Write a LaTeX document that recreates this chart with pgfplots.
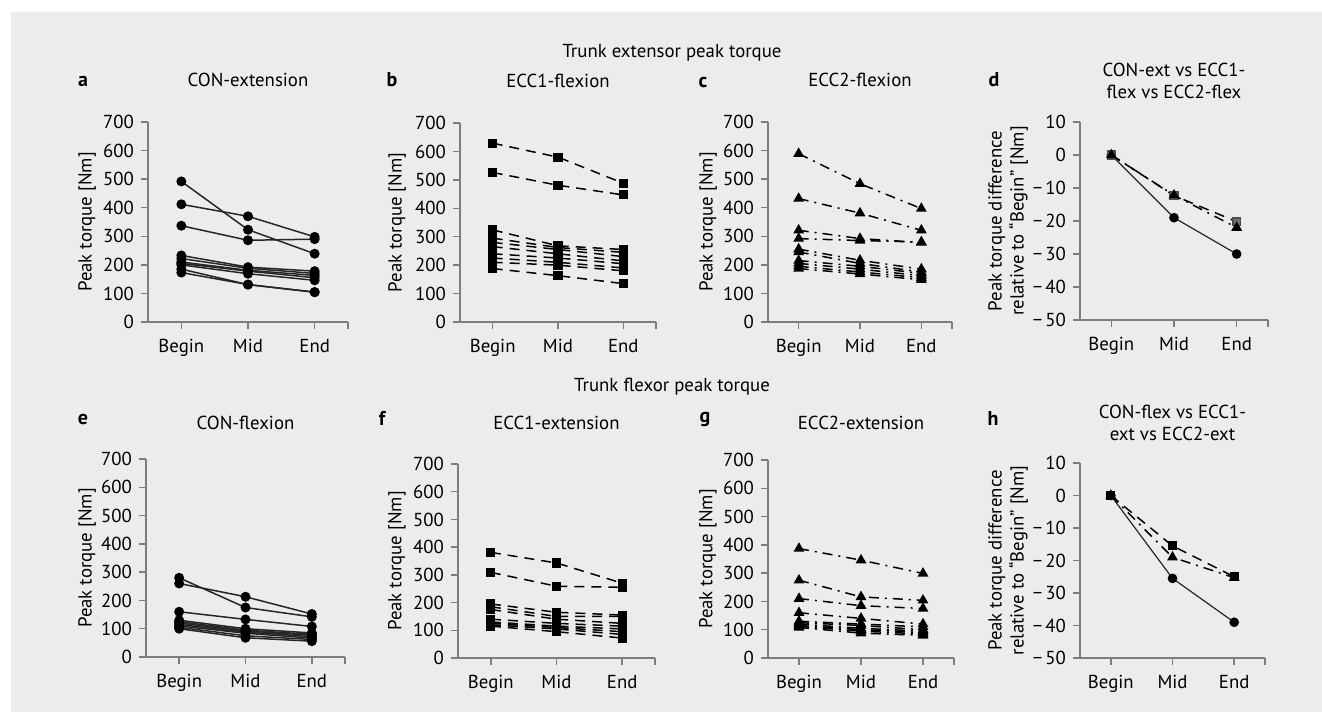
\documentclass[border=0pt]{standalone}
\usepackage{fontspec}
\setmainfont{PT Sans}
\usepackage{pgfplots}
\pgfplotsset{compat=1.18}
\definecolor{bg}{RGB}{235,236,238}
\definecolor{axgray}{RGB}{125,125,125}
\pgfplotsset{
  panel/.style={
    scale only axis, anchor=south west,
    axis x line*=bottom, axis y line*=left,
    axis line style={-, draw=axgray, line width=0.7pt},
    every tick/.style={draw=axgray, line width=0.7pt},
    major tick length=3.5pt, tick align=outside,
    xmin=-0.5, xmax=2.5, xtick={0,1,2}, xticklabels={Begin,Mid,End},
    extra x ticks={2.5}, extra x tick labels={},
    font=\fontsize{9.4}{11}\selectfont,
    ticklabel style={font=\fontsize{9.4}{11}\selectfont},
    xticklabel style={yshift=-1.5pt},
    /pgf/number format/assume math mode=true,
    clip=false,
    title style={anchor=center, align=center},
  },
  torque/.style={ymin=0, ymax=700, ytick={0,100,...,700}, ylabel={Peak torque [Nm]}},
  diff/.style={ymin=-50, ymax=10, ytick={-50,-40,...,10}, yticklabels={−\,50,−\,40,−\,30,−\,20,−\,10,0,10},
    ylabel={Peak torque difference\\relative to “Begin” [Nm]}, ylabel style={align=center}},
  ylab/.style={ylabel style={at={(axis description cs:#1,0.5)}, anchor=center}},
  ttl/.style={title style={at={(axis description cs:0.5,1)}, yshift=#1}},
  con/.style={black!85, line width=0.75pt, mark=*, mark size=2.1pt, mark options={solid, fill=black, draw=black}},
  ecca/.style={black, line width=0.75pt, dash pattern=on 5pt off 3.5pt, mark=square*, mark size=1.9pt, mark options={solid, fill=black}},
  eccb/.style={black, line width=0.75pt, dash pattern=on 5pt off 3pt on 1pt off 3pt, mark=triangle*, mark size=2.4pt, mark options={solid, fill=black}},
}
\begin{document}
\begin{tikzpicture}
\useasboundingbox (0,0) rectangle (661pt,-356pt);
\fill[bg] (5.5pt,-6pt) rectangle (661pt,-356pt);

% a
\begin{axis}[panel, torque, at={(74pt,-161pt)}, width=100pt, height=100pt, ylab=-0.305, title={CON-extension}, ttl=15pt]
\addplot[con] coordinates {(0,492)(1,323)(2,239)};
\addplot[con] coordinates {(0,412)(1,370)(2,298)};
\addplot[con] coordinates {(0,337)(1,286)(2,290)};
\addplot[con] coordinates {(0,233)(1,192)(2,178)};
\addplot[con] coordinates {(0,222)(1,188)(2,170)};
\addplot[con] coordinates {(0,210)(1,181)(2,163)};
\addplot[con] coordinates {(0,205)(1,178)(2,155)};
\addplot[con] coordinates {(0,200)(1,169)(2,146)};
\addplot[con] coordinates {(0,185)(1,131)(2,105)};
\addplot[con] coordinates {(0,173)(1,131)(2,104)};
\end{axis}

% b
\begin{axis}[panel, torque, at={(230pt,-161pt)}, width=98pt, height=99.5pt, ylab=-0.321, title={ECC1-flexion}, ttl=15pt]
\addplot[ecca] coordinates {(0,629)(1,580)(2,488)};
\addplot[ecca] coordinates {(0,526)(1,481)(2,447)};
\addplot[ecca] coordinates {(0,324)(1,268)(2,255)};
\addplot[ecca] coordinates {(0,295)(1,262)(2,245)};
\addplot[ecca] coordinates {(0,280)(1,255)(2,230)};
\addplot[ecca] coordinates {(0,265)(1,240)(2,215)};
\addplot[ecca] coordinates {(0,240)(1,225)(2,205)};
\addplot[ecca] coordinates {(0,225)(1,210)(2,190)};
\addplot[ecca] coordinates {(0,210)(1,200)(2,180)};
\addplot[ecca] coordinates {(0,188)(1,163)(2,135)};
\end{axis}

% c
\begin{axis}[panel, torque, at={(384pt,-161pt)}, width=92pt, height=100pt, ylab=-0.326, title={ECC2-flexion}, ttl=15pt]
\addplot[eccb] coordinates {(0,589)(1,484)(2,397)};
\addplot[eccb] coordinates {(0,432)(1,381)(2,321)};
\addplot[eccb] coordinates {(0,321)(1,292)(2,278)};
\addplot[eccb] coordinates {(0,292)(1,285)(2,280)};
\addplot[eccb] coordinates {(0,255)(1,216)(2,185)};
\addplot[eccb] coordinates {(0,245)(1,205)(2,175)};
\addplot[eccb] coordinates {(0,215)(1,195)(2,170)};
\addplot[eccb] coordinates {(0,205)(1,185)(2,162)};
\addplot[eccb] coordinates {(0,195)(1,175)(2,155)};
\addplot[eccb] coordinates {(0,187)(1,168)(2,148)};
\end{axis}

% d
\begin{axis}[panel, diff, at={(540pt,-160pt)}, width=94pt, height=99pt, ylab=-0.383, title={CON-ext vs ECC1-\\flex vs ECC2-flex}, ttl=14.5pt]
\addplot[con, line width=0.6pt] coordinates {(0,0)(1,-19)(2,-30)};
\addplot[ecca, mark options={solid, fill=black!55, draw=black!70}] coordinates {(0,0)(1,-12.3)(2,-20.2)};
\addplot[eccb] coordinates {(0,0)(1,-12.2)(2,-22)};
\end{axis}

% e
\begin{axis}[panel, torque, at={(73pt,-328.5pt)}, width=99.5pt, height=99pt, ylab=-0.296, title={CON-flexion}, ttl=12pt]
\addplot[con] coordinates {(0,280)(1,175)(2,142)};
\addplot[con] coordinates {(0,260)(1,213)(2,152)};
\addplot[con] coordinates {(0,160)(1,133)(2,108)};
\addplot[con] coordinates {(0,130)(1,100)(2,85)};
\addplot[con] coordinates {(0,125)(1,95)(2,80)};
\addplot[con] coordinates {(0,120)(1,92)(2,77)};
\addplot[con] coordinates {(0,115)(1,88)(2,72)};
\addplot[con] coordinates {(0,110)(1,84)(2,67)};
\addplot[con] coordinates {(0,105)(1,75)(2,62)};
\addplot[con] coordinates {(0,100)(1,68)(2,56)};
\end{axis}

% f
\begin{axis}[panel, torque, at={(229pt,-329pt)}, width=98.5pt, height=97pt, ylab=-0.31, title={ECC1-extension}, ttl=14.5pt]
\addplot[ecca] coordinates {(0,381)(1,343)(2,270)};
\addplot[ecca] coordinates {(0,309)(1,259)(2,255)};
\addplot[ecca] coordinates {(0,195)(1,165)(2,155)};
\addplot[ecca] coordinates {(0,185)(1,150)(2,150)};
\addplot[ecca] coordinates {(0,175)(1,140)(2,125)};
\addplot[ecca] coordinates {(0,140)(1,125)(2,115)};
\addplot[ecca] coordinates {(0,130)(1,115)(2,105)};
\addplot[ecca] coordinates {(0,125)(1,110)(2,95)};
\addplot[ecca] coordinates {(0,120)(1,105)(2,85)};
\addplot[ecca] coordinates {(0,115)(1,95)(2,72)};
\end{axis}

% g
\begin{axis}[panel, torque, at={(384pt,-329pt)}, width=93pt, height=99pt, ylab=-0.323, title={ECC2-extension}, ttl=12.5pt]
\addplot[eccb] coordinates {(0,387)(1,346)(2,299)};
\addplot[eccb] coordinates {(0,275)(1,216)(2,204)};
\addplot[eccb] coordinates {(0,210)(1,185)(2,175)};
\addplot[eccb] coordinates {(0,160)(1,140)(2,120)};
\addplot[eccb] coordinates {(0,130)(1,120)(2,110)};
\addplot[eccb] coordinates {(0,125)(1,115)(2,100)};
\addplot[eccb] coordinates {(0,120)(1,105)(2,95)};
\addplot[eccb] coordinates {(0,115)(1,100)(2,90)};
\addplot[eccb] coordinates {(0,112)(1,95)(2,85)};
\addplot[eccb] coordinates {(0,108)(1,88)(2,80)};
\end{axis}

% h
\begin{axis}[panel, diff, at={(540pt,-329pt)}, width=92.5pt, height=97.5pt, ylab=-0.389, title={CON-flex vs ECC1-\\ext vs ECC2-ext}, ttl=14pt]
\addplot[con, line width=0.6pt] coordinates {(0,0)(1,-25.5)(2,-39)};
\addplot[ecca] coordinates {(0,0)(1,-15.5)(2,-25)};
\addplot[eccb] coordinates {(0,0)(1,-19)(2,-25.3)};
\end{axis}

% panel letters and section titles
\begin{scope}[every node/.style={font=\bfseries\fontsize{10}{12}\selectfont}]
\node at (41.5pt,-40.5pt) {a};
\node at (196pt,-40pt) {b};
\node at (351.5pt,-41pt) {c};
\node at (497pt,-40pt) {d};
\node at (41.5pt,-209.5pt) {e};
\node at (191pt,-209pt) {f};
\node at (352.5pt,-209.5pt) {g};
\node at (496.5pt,-209pt) {h};
\end{scope}
\node[font=\fontsize{9.4}{11}\selectfont] at (336pt,-26.5pt) {Trunk extensor peak torque};
\node[font=\fontsize{9.4}{11}\selectfont] at (336pt,-193.5pt) {Trunk flexor peak torque};
\end{tikzpicture}
\end{document}
